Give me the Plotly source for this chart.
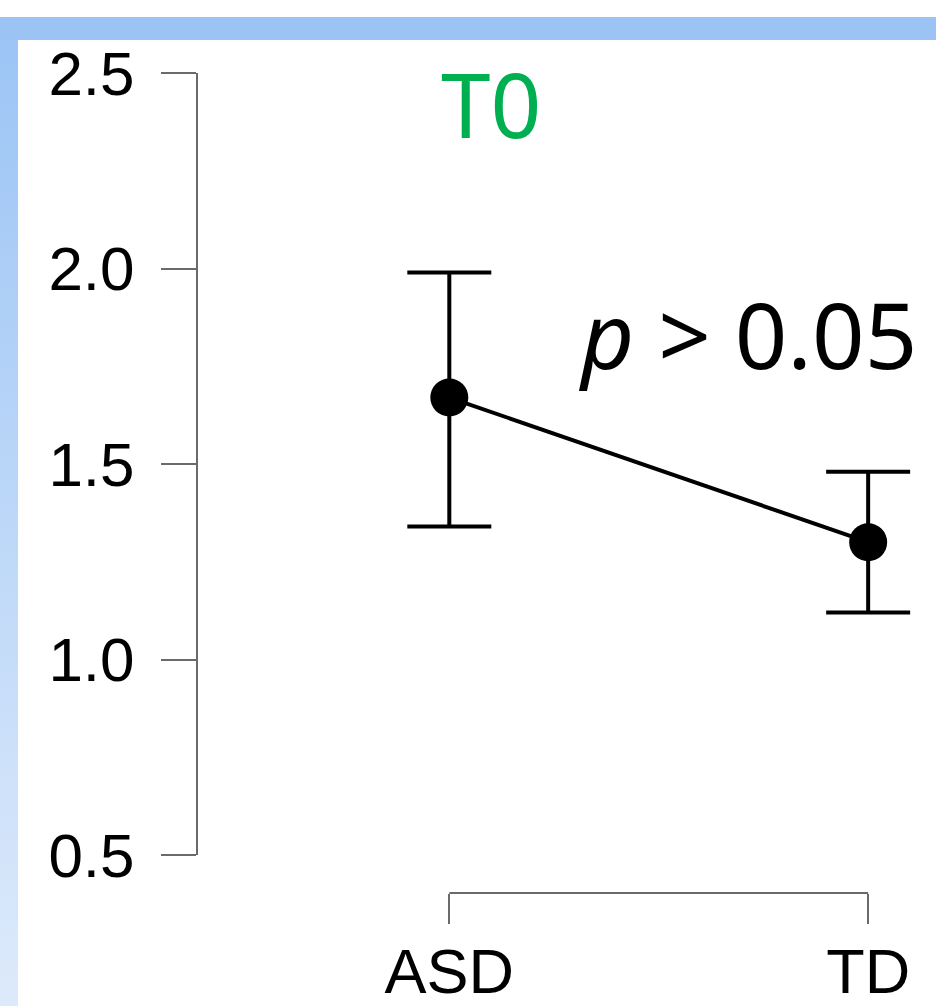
import base64
import plotly.graph_objects as go

# ---- data ----
groups = ["ASD", "TD"]
means = [1.67, 1.30]
upper = [1.99, 1.48]
lower = [1.34, 1.12]
y_ticks = [0.5, 1.0, 1.5, 2.0, 2.5]
y_tick_labels = ["0.5", "1.0", "1.5", "2.0", "2.5"]
title_text = "T0"
p_text = "<i>p</i> > 0.05"

W, H = 936, 1006
ML, MR, MT, MB = 198, 0, 73, 0
PW, PH = W - ML - MR, H - MT - MB
PLOT_BOTTOM = 855
XAXIS_PX = 893


def px_x(px):
    return (px - ML) / PW


def px_y(py):
    return (H - MB - py) / PH


xpos = list(range(len(groups)))
err_plus = [u - m for u, m in zip(upper, means)]
err_minus = [m - l for m, l in zip(means, lower)]

fig = go.Figure()
fig.add_trace(go.Scatter(
    x=xpos, y=means, mode="lines+markers",
    line=dict(color="black", width=4),
    marker=dict(color="black", size=38),
    error_y=dict(type="data", symmetric=False, array=err_plus, arrayminus=err_minus,
                 color="black", thickness=4, width=42),
    cliponaxis=False, showlegend=False,
))

# gradient background band (decoration)
svg = ('<svg xmlns="http://www.w3.org/2000/svg" width="18" height="989" preserveAspectRatio="none">'
       '<defs><linearGradient id="g" x1="0" y1="0" x2="0" y2="1">'
       '<stop offset="0" stop-color="#9BC4F5"/><stop offset="1" stop-color="#DDEAFB"/>'
       '</linearGradient></defs><rect width="18" height="989" fill="url(#g)"/></svg>')
src = "data:image/svg+xml;base64," + base64.b64encode(svg.encode()).decode()
fig.add_layout_image(dict(source=src, xref="paper", yref="paper",
                          x=px_x(0), y=px_y(17), sizex=18 / PW, sizey=989 / PH,
                          xanchor="left", yanchor="top", sizing="stretch", layer="below"))
fig.add_shape(type="rect", xref="paper", yref="paper",
              x0=px_x(0), x1=px_x(W), y0=px_y(40), y1=px_y(17),
              fillcolor="#9BC4F5", line=dict(width=0), layer="below")

# x-axis bracket between the group ticks
fig.add_shape(type="line", xref="x", yref="paper",
              x0=xpos[0], x1=xpos[-1], y0=px_y(XAXIS_PX), y1=px_y(XAXIS_PX),
              line=dict(color="#6a6a6a", width=2))

fig.add_annotation(text=title_text, xref="paper", yref="paper",
                   x=px_x(491), y=px_y(103), xanchor="center", yanchor="middle",
                   showarrow=False, font=dict(family="Noto Sans", size=89, color="#00B050"))
fig.add_annotation(text=p_text, xref="paper", yref="paper",
                   x=px_x(747), y=px_y(333), xanchor="center", yanchor="middle",
                   showarrow=False, font=dict(family="Noto Sans", size=92, color="black"))

fig.update_layout(
    width=W, height=H,
    margin=dict(l=ML, r=MR, t=MT, b=MB, pad=0),
    paper_bgcolor="white", plot_bgcolor="white",
    font=dict(family="Liberation Sans, Arial", size=62, color="black"),
    xaxis=dict(
        range=[-0.6, 1.162], tickvals=xpos, ticktext=groups,
        anchor="free", position=px_y(XAXIS_PX),
        ticks="outside", ticklen=30, tickwidth=2, tickcolor="#6a6a6a",
        showline=False, showgrid=False, zeroline=False,
        tickfont=dict(size=63), automargin=False, ticklabelstandoff=-7,
    ),
    yaxis=dict(
        range=[0.5, 2.5], domain=[px_y(PLOT_BOTTOM), 1],
        tickvals=y_ticks, ticktext=y_tick_labels,
        ticks="outside", ticklen=35, tickwidth=2, tickcolor="#6a6a6a",
        showline=True, linecolor="#6a6a6a", linewidth=2,
        showgrid=False, zeroline=False, tickfont=dict(size=62),
        automargin=False, ticklabelstandoff=14,
    ),
)

fig.write_html("out.html", config={"displayModeBar": False},
               post_script="document.body.style.margin='0';")
